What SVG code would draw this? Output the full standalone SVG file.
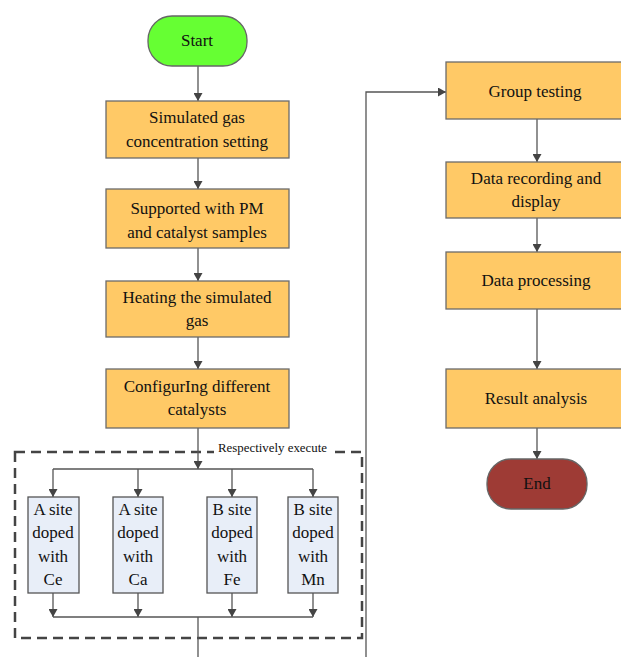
<svg xmlns="http://www.w3.org/2000/svg" width="621" height="657" viewBox="0 0 621 657" font-family="Liberation Serif, DejaVu Serif, serif">
<style>
.box{fill:#FFC966;stroke:#6b6b6b;stroke-width:1.3}
.sub{fill:#E8EEF8;stroke:#555;stroke-width:1.3}
.t{font-size:17px;text-anchor:middle;fill:#111}
.s{font-size:12px;fill:#111}
.c{fill:none;stroke:#555;stroke-width:1.3}
</style>
<defs>
<marker id="ah" viewBox="0 0 8 9" refX="8" refY="4.5" markerWidth="8" markerHeight="9" markerUnits="userSpaceOnUse" orient="auto">
<path d="M0,0 L8,4.5 L0,9 Z" fill="#444"/>
</marker>
</defs>
<rect x="0" y="0" width="621" height="657" fill="#fff"/>

<g id="dashed-frame">
<rect x="15" y="452" width="347" height="186" fill="none" stroke="#444" stroke-width="2.5" stroke-dasharray="10,6"/>
<rect x="214" y="441" width="116" height="14" fill="#fff"/>
<text class="s" x="218" y="452" textLength="109" lengthAdjust="spacingAndGlyphs">Respectively execute</text>
</g>

<g id="connectors">
<line class="c" x1="198" y1="66" x2="198" y2="101" marker-end="url(#ah)"/>
<line class="c" x1="198" y1="158" x2="198" y2="189" marker-end="url(#ah)"/>
<line class="c" x1="198" y1="248" x2="198" y2="281" marker-end="url(#ah)"/>
<line class="c" x1="198" y1="337" x2="198" y2="369" marker-end="url(#ah)"/>
<line class="c" x1="198" y1="428" x2="198" y2="469" marker-end="url(#ah)"/>
<line class="c" x1="53" y1="469" x2="313" y2="469"/>
<line class="c" x1="53" y1="469" x2="53" y2="497" marker-end="url(#ah)"/>
<line class="c" x1="138" y1="469" x2="138" y2="497" marker-end="url(#ah)"/>
<line class="c" x1="232" y1="469" x2="232" y2="497" marker-end="url(#ah)"/>
<line class="c" x1="313" y1="469" x2="313" y2="497" marker-end="url(#ah)"/>
<line class="c" x1="53" y1="593" x2="53" y2="617" marker-end="url(#ah)"/>
<line class="c" x1="138" y1="593" x2="138" y2="617" marker-end="url(#ah)"/>
<line class="c" x1="232" y1="593" x2="232" y2="617" marker-end="url(#ah)"/>
<line class="c" x1="313" y1="593" x2="313" y2="617" marker-end="url(#ah)"/>
<line class="c" x1="53" y1="617" x2="313" y2="617"/>
<line class="c" x1="198" y1="617" x2="198" y2="657"/>
<polyline class="c" points="366,657 366,92 446,92" marker-end="url(#ah)"/>
<line class="c" x1="537" y1="119" x2="537" y2="162" marker-end="url(#ah)"/>
<line class="c" x1="537" y1="218" x2="537" y2="252" marker-end="url(#ah)"/>
<line class="c" x1="537" y1="309" x2="537" y2="369" marker-end="url(#ah)"/>
<line class="c" x1="537" y1="428" x2="537" y2="459" marker-end="url(#ah)"/>
</g>

<g id="start">
<rect x="148" y="16" width="99" height="50" rx="24" fill="#66FF33" stroke="#666" stroke-width="1.3"/>
<text class="t" x="197" y="46">Start</text>
</g>
<g id="gas-setting">
<rect class="box" x="106" y="101" width="183" height="57"/>
<text class="t" x="197" y="123">Simulated gas</text>
<text class="t" x="197" y="147">concentration setting</text>
</g>
<g id="supported">
<rect class="box" x="106" y="189" width="183" height="59"/>
<text class="t" x="197" y="214">Supported with PM</text>
<text class="t" x="197" y="238">and catalyst samples</text>
</g>
<g id="heating">
<rect class="box" x="106" y="281" width="183" height="56"/>
<text class="t" x="197" y="303">Heating the simulated</text>
<text class="t" x="197" y="326">gas</text>
</g>
<g id="configuring">
<rect class="box" x="106" y="369" width="183" height="59"/>
<text class="t" x="197" y="392">ConfigurIng different</text>
<text class="t" x="197" y="415">catalysts</text>
</g>
<g id="a-ce">
<rect class="sub" x="28" y="497" width="51" height="96"/>
<text class="t" x="53" y="515">A site</text>
<text class="t" x="53" y="538">doped</text>
<text class="t" x="53" y="562">with</text>
<text class="t" x="53" y="585">Ce</text>
</g>
<g id="a-ca">
<rect class="sub" x="113" y="497" width="50" height="96"/>
<text class="t" x="138" y="515">A site</text>
<text class="t" x="138" y="538">doped</text>
<text class="t" x="138" y="562">with</text>
<text class="t" x="138" y="585">Ca</text>
</g>
<g id="b-fe">
<rect class="sub" x="207" y="497" width="50" height="96"/>
<text class="t" x="232" y="515">B site</text>
<text class="t" x="232" y="538">doped</text>
<text class="t" x="232" y="562">with</text>
<text class="t" x="232" y="585">Fe</text>
</g>
<g id="b-mn">
<rect class="sub" x="288" y="497" width="50" height="96"/>
<text class="t" x="313" y="515">B site</text>
<text class="t" x="313" y="538">doped</text>
<text class="t" x="313" y="562">with</text>
<text class="t" x="313" y="585">Mn</text>
</g>
<g id="group-testing">
<rect class="box" x="446" y="62" width="184" height="57"/>
<text class="t" x="535" y="97">Group testing</text>
</g>
<g id="data-recording">
<rect class="box" x="446" y="162" width="184" height="56"/>
<text class="t" x="536" y="184">Data recording and</text>
<text class="t" x="536" y="207">display</text>
</g>
<g id="data-processing">
<rect class="box" x="446" y="252" width="184" height="57"/>
<text class="t" x="536" y="286">Data processing</text>
</g>
<g id="result-analysis">
<rect class="box" x="446" y="369" width="184" height="59"/>
<text class="t" x="536" y="404">Result analysis</text>
</g>
<g id="end">
<rect x="487" y="459" width="100" height="50" rx="24" fill="#9E3B35" stroke="#666" stroke-width="1.3"/>
<text class="t" x="537" y="489">End</text>
</g>
</svg>
